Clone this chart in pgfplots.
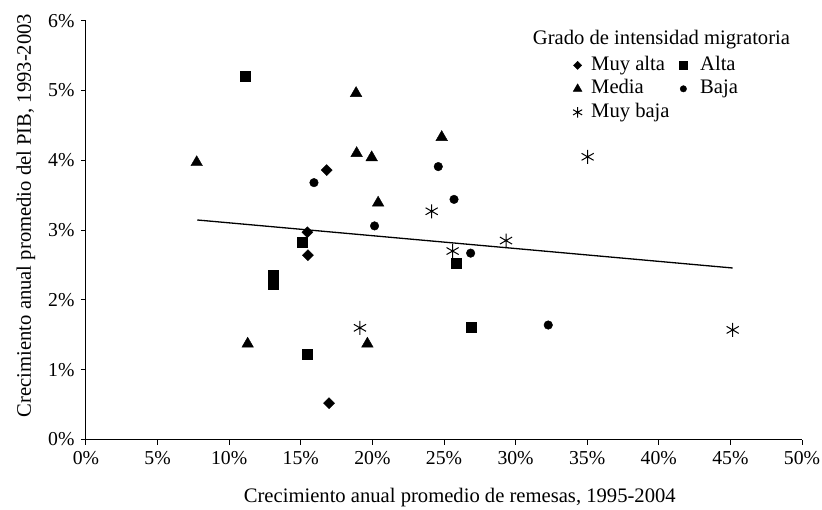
\documentclass[border=0pt]{standalone}
\usepackage{fontspec}
\setmainfont{Liberation Serif}
\usepackage{pgfplots}
\pgfplotsset{compat=1.18}
\begin{document}
\begin{tikzpicture}
\path[use as bounding box] (-86bp,-70.5bp) rectangle (736bp,439.5bp);
\begin{axis}[
  at={(0,0)}, anchor=south west,
  scale only axis, width=716bp, height=418.8bp,
  xmin=0, xmax=50, ymin=0, ymax=6,
  axis x line*=bottom, axis y line*=left,
  axis line style={line width=1bp, -},
  xtick={0,5,10,15,20,25,30,35,40,45,50}, ytick={0,1,2,3,4,5,6},
  xticklabel={\pgfmathprintnumber{\tick}\%},
  yticklabel={\pgfmathprintnumber{\tick}\%},
  tick align=outside, major tick length=5bp,
  tick style={line width=1bp, black},
  /pgf/number format/assume math mode=true,
  tick label style={font=\fontsize{19.8}{22}\selectfont},
  xticklabel style={yshift=-3bp},
  yticklabel style={xshift=-3bp},
  label style={font=\fontsize{20.7}{24}\selectfont},
  xlabel={Crecimiento anual promedio de remesas, 1995-2004},
  ylabel={Crecimiento anual promedio del PIB, 1993-2003},
  xlabel style={at={(axis description cs:0.522,-0.1397)}, anchor=center},
  ylabel style={at={(axis description cs:-0.084,0.535)}, anchor=center},
  legend columns=2,
  legend style={draw=none, fill=none, at={(rel axis cs:0.680,0.922)}, anchor=north west,
    inner sep=0pt, font=\fontsize{20.7}{24}\selectfont,
    nodes={inner sep=2bp, text height=14.5bp, text depth=5bp, font=\fontsize{20.7}{24}\selectfont},
    cells={anchor=west},
    /tikz/column 1/.style={column sep=7bp},
    /tikz/column 2/.style={column sep=8bp},
    /tikz/column 3/.style={column sep=11bp}},
  legend image code/.code={\draw[mark repeat=2,mark phase=2,/tikz/every mark/.append style={scale=0.75}] plot coordinates {(0bp,0bp)(5bp,0bp)(10bp,0bp)};},
]
\addplot[only marks, mark=square*, mark size=3.9bp, mark options={rotate=45, fill=black, draw=black}]
  coordinates {(16.81,3.86) (15.46,2.97) (15.5,2.64) (16.97,0.52)};
\addlegendentry{Muy alta}
\addplot[only marks, mark=square*, mark size=5bp, mark options={fill=black, draw=black}]
  coordinates {(11.10,5.20) (15.08,2.82) (13.04,2.36) (13.1,2.22) (15.48,1.22) (25.84,2.52) (26.89,1.61)};
\addlegendentry{Alta}
\addplot[only marks, mark=triangle*, mark size=6.7bp, mark options={fill=black, draw=black}]
  coordinates {(18.86,4.96) (7.73,3.97) (18.9,4.10) (19.95,4.04) (20.4,3.39) (11.29,1.37) (19.65,1.37) (24.84,4.33)};
\addlegendentry{Media}
\addplot[only marks, mark=*, mark size=4.3bp, mark options={fill=black, draw=black}]
  coordinates {(15.92,3.68) (20.15,3.06) (24.6,3.91) (25.7,3.44) (26.86,2.67) (32.28,1.64)};
\addlegendentry{Baja}
\addplot[only marks, mark=asterisk, mark size=7bp, mark options={draw=black, line width=1bp}]
  coordinates {(19.13,1.60) (35.03,4.05) (24.14,3.27) (25.6,2.70) (29.33,2.85) (45.16,1.57)};
\addlegendentry{Muy baja}
\addplot[black, line width=1.3bp, forget plot] coordinates {(7.77,3.145) (45.16,2.457)};
\node[anchor=base west, inner sep=0pt, font=\fontsize{20.7}{24}\selectfont] at (rel axis cs:0.6239,0.942) {Grado de intensidad migratoria};
\end{axis}
\end{tikzpicture}
\end{document}
